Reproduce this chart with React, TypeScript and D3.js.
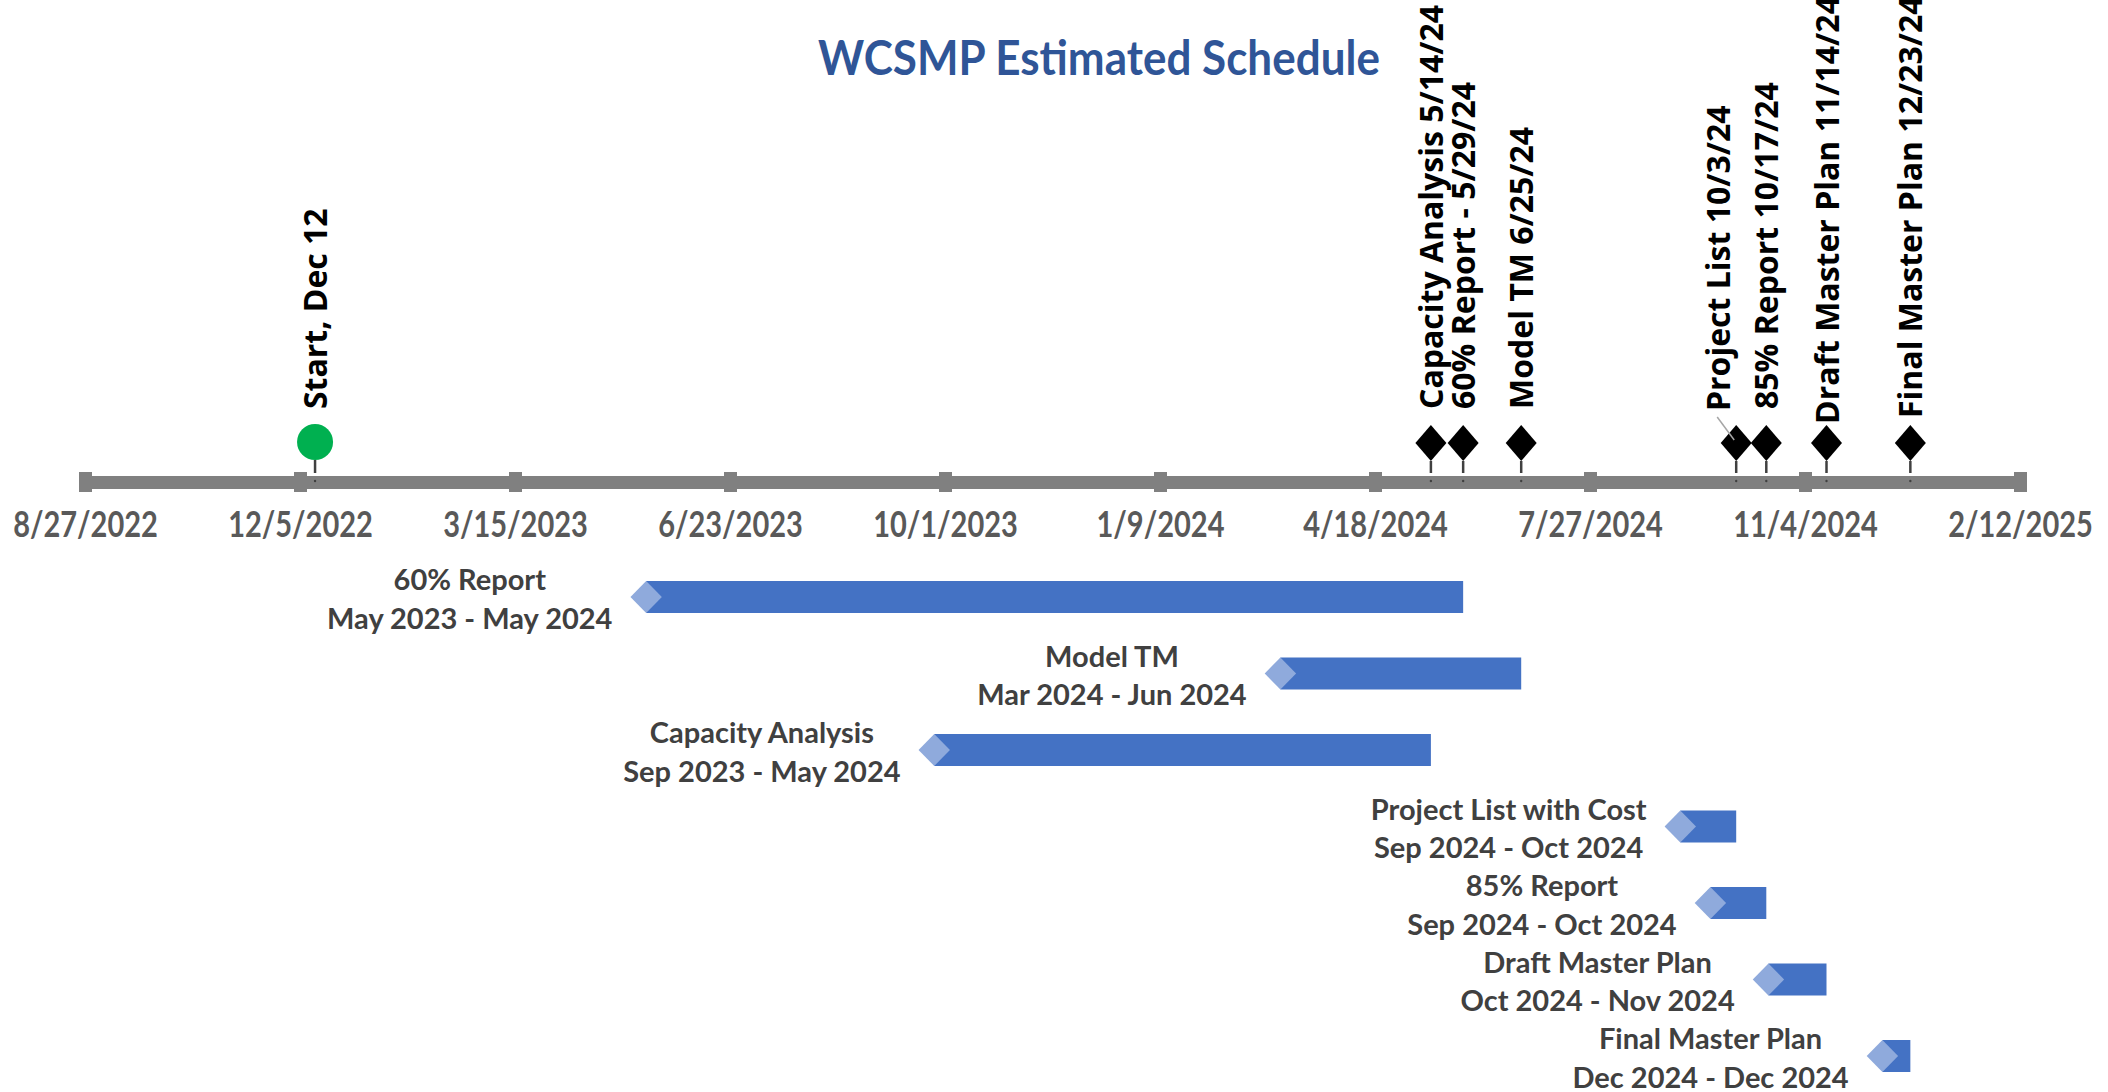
import React, { useEffect, useRef } from "react";
import * as d3 from "d3";

// ---------- data ----------
const chartTitle = "WCSMP Estimated Schedule";

const tickLabels = [
  "8/27/2022", "12/5/2022", "3/15/2023", "6/23/2023", "10/1/2023",
  "1/9/2024", "4/18/2024", "7/27/2024", "11/4/2024", "2/12/2025",
];

const milestoneLabels = [
  "Start, Dec 12",
  "Capacity Analysis 5/14/24",
  "60% Report - 5/29/24",
  "Model TM 6/25/24",
  "Project List 10/3/24",
  "85% Report 10/17/24",
  "Draft Master Plan 11/14/24",
  "Final Master Plan 12/23/24",
];
const milestoneDates = [
  "2022-12-12", "2024-05-14", "2024-05-29", "2024-06-25",
  "2024-10-03", "2024-10-17", "2024-11-14", "2024-12-23",
];
const milestoneShapes = ["circle", "diamond", "diamond", "diamond", "diamond", "diamond", "diamond", "diamond"];

const taskNames = [
  "60% Report", "Model TM", "Capacity Analysis", "Project List with Cost",
  "85% Report", "Draft Master Plan", "Final Master Plan",
];
const taskPeriods = [
  "May 2023 - May 2024", "Mar 2024 - Jun 2024", "Sep 2023 - May 2024", "Sep 2024 - Oct 2024",
  "Sep 2024 - Oct 2024", "Oct 2024 - Nov 2024", "Dec 2024 - Dec 2024",
];
const taskStarts = ["2023-05-15", "2024-03-05", "2023-09-26", "2024-09-07", "2024-09-21", "2024-10-18", "2024-12-10"];
const taskEnds = ["2024-05-29", "2024-06-25", "2024-05-14", "2024-10-03", "2024-10-17", "2024-11-14", "2024-12-23"];

// ---------- layout ----------
const W = 2108;
const H = 1092;
const X0 = 85;
const X1 = 2020;
const AXIS_Y = 482;
const MARK_Y = 443;
const LABEL_BOTTOM = 409;
const ROW0 = 597;
const ROW_STEP = 76.5;
const BAR_H = 32;
// label nudges (dx, dy) for crowded milestone labels
const labelNudge: Record<string, [number, number]> = {
  "Project List 10/3/24": [-18, 2],
  "Draft Master Plan 11/14/24": [0, 15],
  "Final Master Plan 12/23/24": [0, 9],
};

const HFONT = "Lato, 'Open Sans', sans-serif";
const VFONT = "'Open Sans', 'Noto Sans', sans-serif";

export default function App() {
  const ref = useRef<SVGSVGElement | null>(null);

  useEffect(() => {
    const svg = d3.select(ref.current);
    svg.selectAll("*").remove();

    const parseTick = d3.timeParse("%m/%d/%Y");
    const parseISO = d3.timeParse("%Y-%m-%d");
    const tickDates = tickLabels.map((t) => parseTick(t) as Date);
    const x = d3
      .scaleTime()
      .domain([tickDates[0], tickDates[tickDates.length - 1]])
      .range([X0, X1]);

    svg.append("rect").attr("width", W).attr("height", H).attr("fill", "#ffffff");

    // title
    const tsy = 1.1;
    svg
      .append("text")
      .attr("transform", `translate(1099,75) scale(1,${tsy})`)
      .attr("text-anchor", "middle")
      .attr("font-family", HFONT)
      .attr("font-weight", 700)
      .attr("font-size", 44)
      .attr("fill", "#2F5597")
      .text(chartTitle);

    // axis
    const fmt = d3.timeFormat("%-m/%-d/%Y");
    const axis = d3
      .axisBottom(x)
      .tickValues(tickDates)
      .tickFormat((d) => fmt(d as Date))
      .tickSizeInner(0)
      .tickSizeOuter(0)
      .tickPadding(0);
    const gAxis = svg.append("g").attr("transform", `translate(0,${AXIS_Y})`).call(axis as any);
    gAxis.select(".domain").attr("stroke", "#808080").attr("stroke-width", 13);
    gAxis.selectAll(".tick line").remove();
    gAxis
      .selectAll(".tick")
      .insert("rect", "text")
      .attr("x", -6.5)
      .attr("y", -10)
      .attr("width", 13)
      .attr("height", 20)
      .attr("fill", "#808080");
    const sy = 1.25;
    gAxis
      .selectAll(".tick text")
      .attr("dy", null)
      .attr("y", 55 / sy)
      .attr("transform", `scale(1,${sy})`)
      .attr("font-family", HFONT)
      .attr("font-weight", 700)
      .attr("font-size", 29)
      .attr("fill", "#595959");

    // milestones
    const gm = svg.append("g");
    milestoneLabels.forEach((lab, i) => {
      const mx = x(parseISO(milestoneDates[i]) as Date);
      const shape = milestoneShapes[i];
      const g = gm.append("g");
      const markBottom = shape === "circle" ? MARK_Y - 1 + 18 : MARK_Y + 18;
      g.append("line")
        .attr("x1", mx).attr("x2", mx)
        .attr("y1", markBottom).attr("y2", 473)
        .attr("stroke", "#404040").attr("stroke-width", 2.5);
      g.append("circle").attr("cx", mx).attr("cy", AXIS_Y - 1).attr("r", 1.2).attr("fill", "#404040");
      if (shape === "circle") {
        g.append("circle").attr("cx", mx).attr("cy", MARK_Y - 1).attr("r", 18).attr("fill", "#00B050");
      } else {
        const hw = 15.5, hh = 18;
        g.append("path")
          .attr("d", `M${mx - hw},${MARK_Y}L${mx},${MARK_Y - hh}L${mx + hw},${MARK_Y}L${mx},${MARK_Y + hh}Z`)
          .attr("fill", "#000000");
      }
      const [dx, dy] = labelNudge[lab] || [0, 0];
      if (dx !== 0) {
        g.append("line")
          .attr("x1", mx + dx - 1).attr("y1", LABEL_BOTTOM + dy + 6)
          .attr("x2", mx - 2).attr("y2", MARK_Y - 3)
          .attr("stroke", "#A6A6A6").attr("stroke-width", 1.5);
      }
      g.append("text")
        .attr("transform", `translate(${mx + dx},${LABEL_BOTTOM + dy}) rotate(-90)`)
        .attr("y", 12)
        .attr("text-anchor", "start")
        .attr("font-family", VFONT)
        .attr("font-weight", 700)
        .attr("font-size", 32)
        .attr("fill", "#000000")
        .text(lab);
    });

    // tasks
    const gt = svg.append("g");
    taskNames.forEach((name, i) => {
      const cy = ROW0 + i * ROW_STEP;
      const xs = x(parseISO(taskStarts[i]) as Date);
      const xe = x(parseISO(taskEnds[i]) as Date);
      gt.append("rect")
        .attr("x", xs).attr("y", cy - BAR_H / 2)
        .attr("width", Math.max(0, xe - xs)).attr("height", BAR_H)
        .attr("fill", "#4472C4");
      const hw = 15.7, hh = BAR_H / 2;
      gt.append("path")
        .attr("d", `M${xs - hw},${cy}L${xs},${cy - hh}L${xs + hw},${cy}L${xs},${cy + hh}Z`)
        .attr("fill", "#8FAADC");
      const t1 = gt.append("text")
        .attr("y", cy - 7)
        .attr("text-anchor", "middle")
        .attr("font-family", HFONT).attr("font-weight", 700).attr("font-size", 29)
        .attr("fill", "#404040").text(name);
      const t2 = gt.append("text")
        .attr("y", cy + 31.5)
        .attr("text-anchor", "middle")
        .attr("font-family", HFONT).attr("font-weight", 700).attr("font-size", 29)
        .attr("fill", "#404040").text(taskPeriods[i]);
      const w1 = (t1.node() as SVGTextElement).getComputedTextLength();
      const w2 = (t2.node() as SVGTextElement).getComputedTextLength();
      const wmax = Math.max(w1, w2);
      const cx = xs - hw - 18 - wmax / 2;
      t1.attr("x", cx);
      t2.attr("x", cx);
    });
  }, []);

  return (
    <svg
      ref={ref}
      width={W}
      height={H}
      viewBox={`0 0 ${W} ${H}`}
      style={{ position: "absolute", left: 0, top: 0, display: "block" }}
    />
  );
}
